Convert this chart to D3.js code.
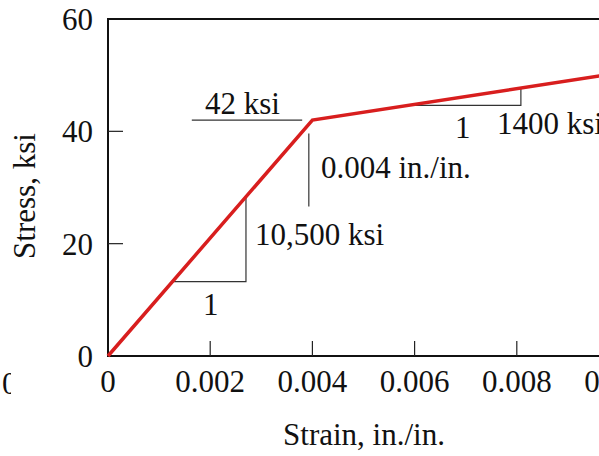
<!DOCTYPE html>
<html>
<head>
<meta charset="utf-8">
<script src="https://cdn.jsdelivr.net/npm/d3@7"></script>
<style>
  body { margin: 0; background: #fff; }
  text { font-family: "Liberation Serif", "Times New Roman", serif; fill: #111; }
</style>
</head>
<body>
<div id="chart"></div>
<script>
// Stress-strain diagram (bilinear)

var width = 599
var height = 456

// data
const strain = [0, 0.004, 0.010]
const stress = [0, 42, 50.4]
const xTicks = [0, 0.002, 0.004, 0.006, 0.008, 0.010]
const xTickLabels = ['0', '0.002', '0.004', '0.006', '0.008', '0.010']
const yTicks = [0, 20, 40, 60]
const yTickLabels = ['0', '20', '40', '60']
const E1 = 10500   // ksi, elastic slope
const E2 = 1400    // ksi, hardening slope

// scales
const xScale = d3.scaleLinear().domain([0, 0.010]).range([108, 619])
const yScale = d3.scaleLinear().domain([0, 60]).range([356, 19])

var svg = d3.select('#chart')
  .append('svg')
  .attr('width', width)
  .attr('height', height)

// frame
svg.append('rect')
  .attr('x', xScale(0))
  .attr('y', yScale(60))
  .attr('width', xScale(0.010) - xScale(0))
  .attr('height', yScale(0) - yScale(60))
  .attr('fill', 'none')
  .attr('stroke', '#111')
  .attr('stroke-width', 2)

// x ticks (inward) and labels
svg.selectAll('.xtick')
  .data(xTicks.slice(1))
  .enter()
  .append('line')
  .attr('x1', d => xScale(d))
  .attr('x2', d => xScale(d))
  .attr('y1', yScale(0))
  .attr('y2', yScale(0) - 15)
  .attr('stroke', '#222')
  .attr('stroke-width', 1.2)

svg.selectAll('.xlabel')
  .data(xTicks)
  .enter()
  .append('text')
  .attr('x', d => xScale(d))
  .attr('y', 392)
  .attr('text-anchor', 'middle')
  .attr('font-size', 31)
  .text((d, i) => xTickLabels[i])

// y ticks and labels
svg.selectAll('.ytick')
  .data(yTicks.slice(1, 3))
  .enter()
  .append('line')
  .attr('x1', xScale(0))
  .attr('x2', xScale(0) + 15)
  .attr('y1', d => yScale(d))
  .attr('y2', d => yScale(d))
  .attr('stroke', '#222')
  .attr('stroke-width', 1.2)

svg.selectAll('.ylabel')
  .data(yTicks)
  .enter()
  .append('text')
  .attr('x', 93)
  .attr('y', d => yScale(d) + 11)
  .attr('text-anchor', 'end')
  .attr('font-size', 31)
  .text((d, i) => yTickLabels[i])

// leftover "0" from the neighbouring figure on the scanned page
svg.append('clipPath').attr('id', 'edge')
  .append('rect').attr('x', 0).attr('y', 360).attr('width', 11).attr('height', 40)
svg.append('text')
  .attr('x', 2)
  .attr('y', 394)
  .attr('font-size', 31)
  .attr('clip-path', 'url(#edge)')
  .text('0')

// axis titles
svg.append('text')
  .attr('transform', 'translate(35,' + 196 + ') rotate(-90)')
  .attr('text-anchor', 'middle')
  .attr('font-size', 31)
  .text('Stress, ksi')

svg.append('text')
  .attr('x', 364)
  .attr('y', 445)
  .attr('text-anchor', 'middle')
  .attr('font-size', 31)
  .text('Strain, in./in.')

// annotation lines
const ann = svg.append('g')
  .attr('stroke', '#333')
  .attr('stroke-width', 1.2)
  .attr('fill', 'none')

// yield stress marker
ann.append('line')
  .attr('x1', xScale(0.00164)).attr('x2', xScale(0.0038))
  .attr('y1', yScale(42)).attr('y2', yScale(42))
// yield strain marker
ann.append('line')
  .attr('x1', xScale(0.00393)).attr('x2', xScale(0.00393))
  .attr('y1', yScale(39.6)).attr('y2', yScale(26.6))

// slope triangle, elastic part
const a1 = 0.00126, a2 = 0.0027
ann.append('path')
  .attr('d', d3.line()([
    [xScale(a1), yScale(E1 * a1)],
    [xScale(a2), yScale(E1 * a1)],
    [xScale(a2), yScale(E1 * a2)]
  ]))

// slope triangle, hardening part
const b1 = 0.00586, b2 = 0.00808
const s2 = s => 42 + E2 * (s - 0.004)
ann.append('path')
  .attr('d', d3.line()([
    [xScale(b1), yScale(s2(b1))],
    [xScale(b2), yScale(s2(b1))],
    [xScale(b2), yScale(s2(b2))]
  ]))

// stress-strain curve
const points = strain.map((d, i) => [d, stress[i]])
svg.append('path')
  .datum(points)
  .attr('d', d3.line().x(d => xScale(d[0])).y(d => yScale(d[1])))
  .attr('fill', 'none')
  .attr('stroke', '#d81e1e')
  .attr('stroke-width', 3.5)
  .attr('stroke-linejoin', 'miter')

// annotation texts
const labels = [
  { t: '42 ksi', x: 205, y: 114 },
  { t: '0.004 in./in.', x: 321, y: 178 },
  { t: '10,500 ksi', x: 255, y: 245 },
  { t: '1', x: 203, y: 315 },
  { t: '1', x: 455, y: 138 },
  { t: '1400 ksi', x: 497, y: 134 }
]
svg.selectAll('.ann')
  .data(labels)
  .enter()
  .append('text')
  .attr('x', d => d.x)
  .attr('y', d => d.y)
  .attr('font-size', 31)
  .text(d => d.t)
</script>
</body>
</html>
